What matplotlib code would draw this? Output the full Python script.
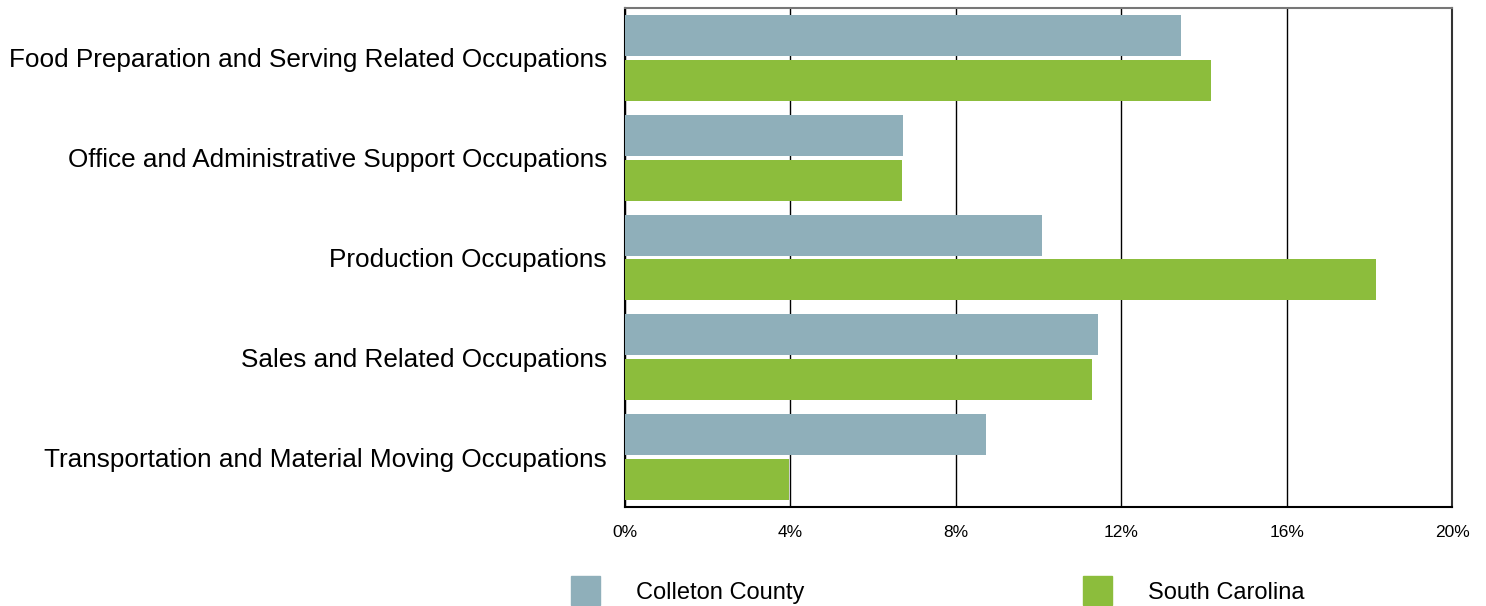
import matplotlib.pyplot as plt
from matplotlib.patches import Rectangle
from matplotlib.ticker import FuncFormatter
import numpy as np

plt.rcParams['font.family'] = ['Liberation Sans', 'DejaVu Sans']

categories = [
    "Food Preparation and Serving Related Occupations",
    "Office and Administrative Support Occupations",
    "Production Occupations",
    "Sales and Related Occupations",
    "Transportation and Material Moving Occupations",
]
series_names = ["Colleton County", "South Carolina"]
colleton = [13.45, 6.72, 10.08, 11.44, 8.73]
south_carolina = [14.17, 6.70, 18.16, 11.29, 3.97]
x_ticks = [0, 4, 8, 12, 16, 20]

colors = ["#8fafba", "#8cbd3c"]

fig = plt.figure(figsize=(14.86, 6.06), dpi=100)
ax = fig.add_axes([625 / 1486, 1 - 507 / 606, 827 / 1486, 499 / 606])

y = np.arange(len(categories))
ax.barh(y - 0.225, colleton, height=0.41, color=colors[0], zorder=3)
ax.barh(y + 0.225, south_carolina, height=0.41, color=colors[1], zorder=3)

ax.set_ylim(len(categories) - 0.5, -0.5)
ax.set_xlim(0, 20)
ax.set_xticks(x_ticks)
ax.xaxis.set_major_formatter(FuncFormatter(lambda v, p: f"{v:.0f}%"))
ax.set_yticks(y)
ax.set_yticklabels(categories, fontsize=18.8)
ax.tick_params(axis="y", length=0, pad=13)
ax.tick_params(axis="x", length=0, pad=13, labelsize=12.5)
ax.grid(axis="x", color="black", linewidth=1, zorder=0)

ax.spines["left"].set_color("black")
ax.spines["left"].set_linewidth(1.5)
ax.spines["bottom"].set_color("black")
ax.spines["bottom"].set_linewidth(1.5)
ax.spines["top"].set_color("#777777")
ax.spines["top"].set_linewidth(1.5)
ax.spines["right"].set_color("#333333")
ax.spines["right"].set_linewidth(1.5)

# legend drawn by hand at the bottom
legend_x = [571, 1083]
for lx, name, col in zip(legend_x, series_names, colors):
    fig.patches.append(Rectangle((lx / 1486, 1 - 605 / 606), 29 / 1486, 29 / 606,
                                 transform=fig.transFigure, color=col))
    fig.text((lx + 65) / 1486, 1 - 593 / 606, name, fontsize=17, va="center", ha="left")

fig.savefig("out.png", dpi=100)
